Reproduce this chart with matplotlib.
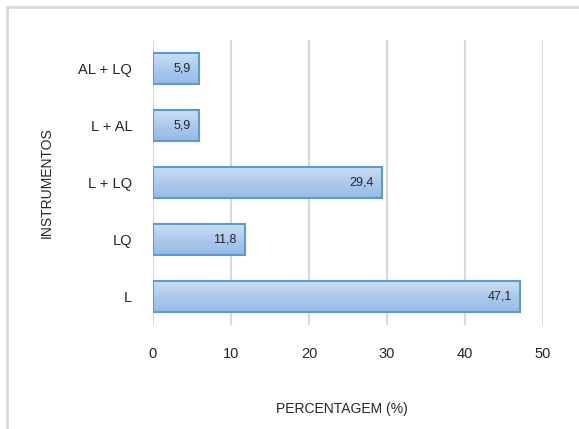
import numpy as np
import matplotlib.pyplot as plt
from matplotlib.colors import LinearSegmentedColormap
from matplotlib.lines import Line2D

instrumentos = ['L', 'LQ', 'L + LQ', 'L + AL', 'AL + LQ']
percentagem = [47.1, 11.8, 29.4, 5.9, 5.9]
xticks = [0, 10, 20, 30, 40, 50]

plt.rcParams['font.family'] = ['Liberation Sans', 'DejaVu Sans']

fig = plt.figure(figsize=(5.79, 4.29), dpi=100)
ax = fig.add_axes([0.2642, 0.2424, 0.6736, 0.6643])

# outer frame (only top and left edges visible)
fig.add_artist(Line2D([7/579, 1], [1-7/429, 1-7/429], transform=fig.transFigure, color='#d9d9d9', lw=2))
fig.add_artist(Line2D([7/579, 7/579], [0, 1-7/429], transform=fig.transFigure, color='#d9d9d9', lw=2))

y = np.arange(len(instrumentos))
bars = ax.barh(y, percentagem, height=0.53, facecolor='none', edgecolor='#5b9bd5', lw=1.5, zorder=3)

# light at the top, deeper blue towards the bottom
grad = LinearSegmentedColormap.from_list('g', ['#cadef4', '#adcaec', '#96bae6'])
gimg = np.linspace(0, 1, 64).reshape(-1, 1)
for b in bars:
    x0, y0, w, h = b.get_x(), b.get_y(), b.get_width(), b.get_height()
    im = ax.imshow(gimg, cmap=grad, aspect='auto', extent=(x0, x0 + w, y0, y0 + h),
                   origin='upper', zorder=2)
    im.set_clip_path(b)

for yi, v in zip(y, percentagem):
    ax.text(v - 1.1, yi, f'{v:.1f}'.replace('.', ','), ha='right', va='center',
            fontsize=9, color='#262626', zorder=4)

ax.set_xlim(0, 50)
ax.set_ylim(-0.5, len(instrumentos) - 0.5)
ax.set_xticks(xticks)
ax.set_yticks(y)
ax.set_yticklabels(instrumentos)
ax.grid(axis='x', color='#d9d9d9', lw=1.5, zorder=0)
for s in ax.spines.values():
    s.set_visible(False)
ax.tick_params(length=0, labelsize=10.5, colors='#262626')
ax.tick_params(axis='x', pad=16)
ax.tick_params(axis='y', pad=15)

ax.set_xlabel('PERCENTAGEM (%)', fontsize=10, color='#262626')
ax.xaxis.set_label_coords(0.485, -0.27)
ax.set_ylabel('INSTRUMENTOS', fontsize=10, color='#262626')
ax.yaxis.set_label_coords(-0.255, 0.5)

fig.savefig('out.png', dpi=100)
